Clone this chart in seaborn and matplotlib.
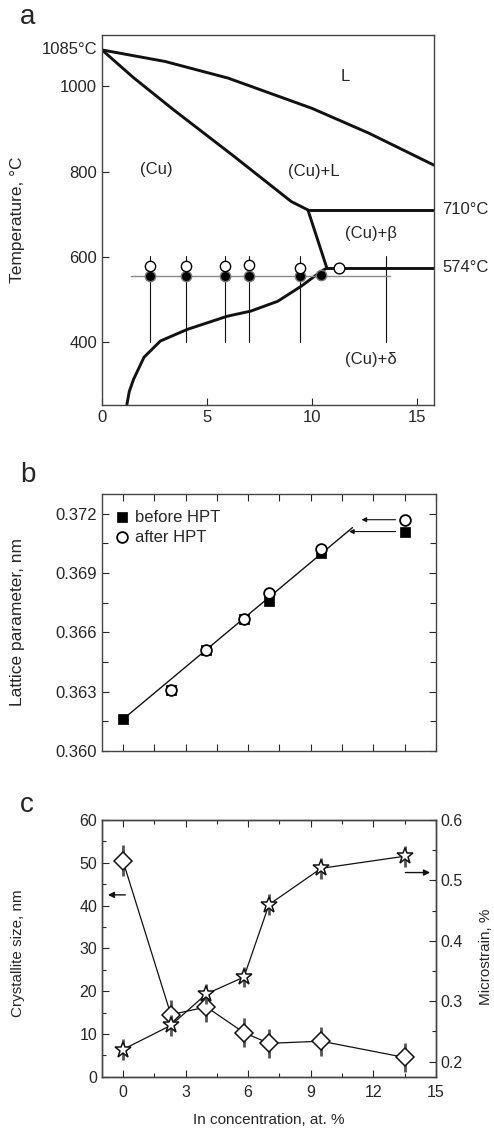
import numpy as np
import pandas as pd
import matplotlib
matplotlib.use("Agg")
import matplotlib.pyplot as plt
import seaborn as sns

sns.set_theme(style="ticks")
plt.rcParams['font.family'] = ['Liberation Sans', 'DejaVu Sans']

# ---------------- Panel a data (phase diagram) ----------------
liq_x = [0, 3.0, 6.0, 10.0, 12.7, 15.8]
liq_t = [1085, 1058, 1019, 948, 890, 815]
sol_x = [0, 1.5, 3.4, 6.3, 9.0, 9.8]
sol_t = [1085, 1020, 945, 835, 730, 710]
beta_x = [9.8, 10.7]
beta_t = [710, 574]
solv_x = [1.18, 1.3, 1.5, 2.0, 2.78, 4.05, 5.96, 7.08, 8.36, 9.47, 10.43, 10.7]
solv_t = [253, 285, 313, 365, 403, 430, 461, 473, 496, 531, 566, 574]
iso710_x = [9.8, 15.8]
iso710_t = [710, 710]
iso574_x = [10.7, 15.8]
iso574_t = [574, 574]
samp_x = [2.3, 4.0, 5.85, 7.0, 9.4]
samp_open_t = [578, 578, 578, 580, 574]
samp_fill_x = [2.3, 4.0, 5.85, 7.0, 9.4, 10.4]
samp_fill_t = [556, 556, 556, 556, 556, 557]
vert_x = [2.3, 4.0, 5.85, 7.0, 9.4, 13.5]
extra_open_x = [11.3]
extra_open_t = [575]

# ---------------- Panel b data (lattice parameter) ----------------
before_x = [0, 2.3, 4.0, 5.8, 7.0, 9.5, 13.5]
before_a = [0.3616, 0.3631, 0.3651, 0.3667, 0.3676, 0.3700, 0.3711]
after_x = [2.3, 4.0, 5.8, 7.0, 9.5, 13.5]
after_a = [0.3631, 0.3651, 0.3667, 0.3680, 0.3702, 0.3717]
fit_x = [0, 11.0]
fit_a = [0.3616, 0.3713]

# ---------------- Panel c data ----------------
conc = [0, 2.3, 4.0, 5.8, 7.0, 9.5, 13.5]
size_nm = [50.5, 14.5, 16.3, 10.3, 7.8, 8.3, 4.5]
size_err = [3.6, 3.4, 3.4, 3.4, 3.4, 3.4, 3.4]
strain = [0.22, 0.26, 0.312, 0.34, 0.46, 0.52, 0.54]
strain_err = [0.017, 0.017, 0.017, 0.017, 0.017, 0.017, 0.017]

W, H = 494, 1129
fig = plt.figure(figsize=(W / 100, H / 100), dpi=100)

def frac(l, t, r, b):
    return [l / W, 1 - b / H, (r - l) / W, (b - t) / H]

FS = 12
K = '#111111'

# ================= Panel a =================
ax = fig.add_axes(frac(102, 35, 434, 405))
for xs, ts in [(liq_x, liq_t), (sol_x, sol_t), (beta_x, beta_t), (solv_x, solv_t),
               (iso710_x, iso710_t), (iso574_x, iso574_t)]:
    sns.lineplot(x=xs, y=ts, ax=ax, sort=False, estimator=None, color=K, lw=2.1)
for vx in vert_x:
    ax.plot([vx, vx], [400, 602], color=K, lw=0.8)
ax.plot([1.4, 13.7], [556, 556], color='#888888', lw=1.0)
sns.scatterplot(x=samp_fill_x, y=samp_fill_t, ax=ax, marker='o', s=55,
                color='black', edgecolor='#777777', linewidth=1.0, zorder=5)
sns.scatterplot(x=samp_x, y=samp_open_t, ax=ax, marker='o', s=55,
                color='white', edgecolor='black', linewidth=1.0, zorder=5)
sns.scatterplot(x=extra_open_x, y=extra_open_t, ax=ax, marker='o', s=60,
                color='white', edgecolor='black', linewidth=1.0, zorder=6)
ax.set_xlim(0, 15.8)
ax.set_ylim(253, 1120)
ax.set_xticks([0, 5, 10, 15])
ax.set_yticks([400, 600, 800, 1000])
ax.tick_params(direction='in', length=5, labelsize=FS, width=0.8)
ax.set_ylabel('Temperature, °C', fontsize=FS + 0.5)
ax.yaxis.set_label_coords(-0.232, 0.5)
ax.text(-0.2, 1085, '1085°C', ha='right', va='center', fontsize=FS)
ax.text(16.2, 711, '710°C', ha='left', va='center', fontsize=FS, clip_on=False)
ax.text(16.2, 575, '574°C', ha='left', va='center', fontsize=FS, clip_on=False)
ax.text(11.6, 1022, 'L', ha='center', va='center', fontsize=FS)
ax.text(2.6, 806, '(Cu)', ha='center', va='center', fontsize=FS)
ax.text(10.1, 801, '(Cu)+L', ha='center', va='center', fontsize=FS)
ax.text(12.8, 655, '(Cu)+β', ha='center', va='center', fontsize=FS)
ax.text(12.8, 360, '(Cu)+δ', ha='center', va='center', fontsize=FS)
for s in ax.spines.values():
    s.set_color('#444444'); s.set_linewidth(1.0)
fig.text(20 / W, 1 - 17 / H, 'a', fontsize=20, va='center', ha='left')

# ================= Panel b =================
bx = fig.add_axes(frac(102, 494, 436, 751))
sns.lineplot(x=fit_x, y=fit_a, ax=bx, color=K, lw=1.0, estimator=None)
sns.scatterplot(x=before_x, y=before_a, ax=bx, marker='s', s=55, color='black',
                edgecolor='black', linewidth=0.5, zorder=4, label='before HPT')
sns.scatterplot(x=after_x, y=after_a, ax=bx, marker='o', s=60, color='white',
                edgecolor='black', linewidth=1.3, zorder=5, label='after HPT')
bx.annotate('', xy=(10.7, before_a[-1]), xytext=(13.2, before_a[-1]),
            arrowprops=dict(arrowstyle='-|>', color=K, lw=0.8, mutation_scale=7))
bx.annotate('', xy=(11.3, after_a[-1]), xytext=(13.2, after_a[-1]),
            arrowprops=dict(arrowstyle='-|>', color=K, lw=0.8, mutation_scale=7))
bx.set_xlim(-1, 15)
bx.set_ylim(0.360, 0.3730)
bx.set_xticks(np.arange(0, 15.1, 1.5))
bx.set_xticklabels([])
bx.set_yticks([0.360, 0.363, 0.366, 0.369, 0.372])
bx.set_yticklabels(['0.360', '0.363', '0.366', '0.369', '0.372'])
bx.set_yticks(np.arange(0.3615, 0.373, 0.003), minor=True)
bx.tick_params(which='both', direction='in', top=True, right=True,
               labelsize=FS, width=0.8)
bx.tick_params(which='major', length=5)
bx.tick_params(which='minor', length=4)
bx.set_ylabel('Lattice parameter, nm', fontsize=FS + 0.5)
bx.yaxis.set_label_coords(-0.232, 0.5)
leg = bx.legend(loc='upper left', frameon=False, fontsize=FS, handletextpad=0.3,
                borderaxespad=0.3, labelspacing=0.3, handlelength=1.0,
                bbox_to_anchor=(0.0, 0.985))
for s in bx.spines.values():
    s.set_color('#444444'); s.set_linewidth(1.0)
fig.text(20 / W, 1 - 475 / H, 'b', fontsize=20, va='center', ha='left')

# ================= Panel c =================
cx = fig.add_axes(frac(102, 820, 436, 1076.7))
cx2 = cx.twinx()
dfc = pd.DataFrame({'conc': conc, 'size': size_nm, 'strain': strain})
cx.errorbar(conc, size_nm, yerr=size_err, fmt='none', ecolor='#555555',
            elinewidth=2.0, capsize=0, zorder=2)
sns.lineplot(data=dfc, x='conc', y='size', ax=cx, color=K, lw=0.9,
             marker='D', markersize=9, markerfacecolor='white',
             markeredgecolor=K, markeredgewidth=1.1, zorder=3)
cx2.errorbar(conc, strain, yerr=strain_err, fmt='none', ecolor='#555555',
             elinewidth=2.0, capsize=0, zorder=2)
sns.lineplot(data=dfc, x='conc', y='strain', ax=cx2, color=K, lw=0.9,
             marker='*', markersize=12, markerfacecolor='white',
             markeredgecolor=K, markeredgewidth=1.1, zorder=3)
cx.annotate('', xy=(-0.85, 42.5), xytext=(0.25, 42.5),
            arrowprops=dict(arrowstyle='-|>', color=K, lw=1.0, mutation_scale=9))
cx2.annotate('', xy=(14.85, 0.513), xytext=(13.4, 0.513),
             arrowprops=dict(arrowstyle='-|>', color=K, lw=1.0, mutation_scale=9))
cx.set_xlim(-1, 15)
cx.set_ylim(0, 60)
cx2.set_ylim(0.175, 0.6)
cx.set_xticks([0, 3, 6, 9, 12, 15])
cx.set_xticks(np.arange(1.5, 15, 3), minor=True)
cx.set_yticks([0, 10, 20, 30, 40, 50, 60])
cx.set_yticks(np.arange(5, 60, 10), minor=True)
cx2.set_yticks([0.2, 0.3, 0.4, 0.5, 0.6])
cx2.set_yticklabels(['0.2', '0.3', '0.4', '0.5', '0.6'])
cx2.set_yticks([0.25, 0.35, 0.45, 0.55], minor=True)
cx.tick_params(which='both', direction='in', top=True, labelsize=FS - 0.5, width=0.8)
cx.tick_params(axis='x', pad=6)
cx.tick_params(which='major', length=5)
cx.tick_params(which='minor', length=3)
cx2.tick_params(which='both', direction='in', labelsize=FS - 0.5, width=0.8)
cx2.tick_params(which='major', length=5)
cx2.tick_params(which='minor', length=3)
cx.set_xlabel('In concentration, at. %', fontsize=FS - 1)
cx.xaxis.set_label_coords(0.5, -0.14)
cx.set_ylabel('Crystallite size, nm', fontsize=FS - 1)
cx.yaxis.set_label_coords(-0.232, 0.48)
cx2.set_ylabel('')
fig.text(486 / W, 1 - 957 / H, 'Microstrain, %', rotation=90, fontsize=FS - 1,
         ha='center', va='center')
for s in list(cx.spines.values()) + list(cx2.spines.values()):
    s.set_color('#444444'); s.set_linewidth(1.0)
fig.text(20 / W, 1 - 805 / H, 'c', fontsize=20, va='center', ha='left')

fig.savefig('out.png', dpi=100)
